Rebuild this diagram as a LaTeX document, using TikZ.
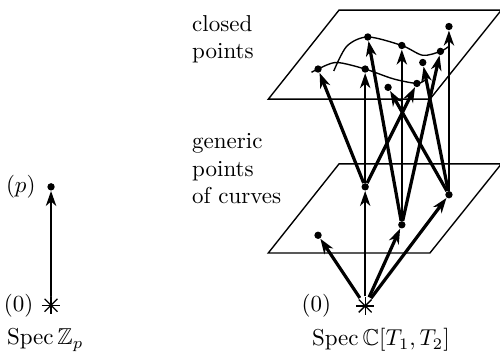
\documentclass[tikz,border=0pt]{standalone}
\usepackage{amsmath,amssymb}
\usepackage{tikz}
\usetikzlibrary{arrows.meta, positioning}

\begin{document}
\begin{tikzpicture}[
    closed point/.style={
        circle,
        fill=black,
        inner sep=0pt,
        minimum size=3.2pt
    },
    generic star/.style={
        circle,
        minimum size=2.8mm,
        inner sep=0pt,
        path picture={
            \draw[line width=0.55pt] (path picture bounding box.north) -- (path picture bounding box.south);
            \draw[line width=0.55pt] (path picture bounding box.west) -- (path picture bounding box.east);
            \draw[line width=0.55pt] (path picture bounding box.north west) -- (path picture bounding box.south east);
            \draw[line width=0.55pt] (path picture bounding box.north east) -- (path picture bounding box.south west);
        }
    },
    plane/.style={line width=0.6pt},
    curve/.style={line width=0.6pt},
    thin arrow/.style={
        line width=0.6pt,
        -{Stealth[length=2.3mm, width=1.6mm, inset=0.7mm]}
    },
    thick arrow/.style={
        line width=1.4pt,
        -{Stealth[length=2.3mm, width=1.6mm, inset=0.7mm]}
    }
]
    \useasboundingbox (0,0) rectangle (7.64,5.455);

    % 两个平面
    \draw[plane] (4.10,3.94) -- (6.57,3.94) -- (7.66,5.30) -- (5.18,5.30) -- cycle;
    \draw[plane] (4.10,1.59) -- (6.57,1.59) -- (7.66,2.95) -- (5.18,2.95) -- cycle;

    % 左边: Spec Z_p
    \node[generic star] (starL) at (0.78,0.79) {};
    \node[closed point] (dotL) at (0.78,2.60) {};
    \node[left=0pt of starL] (zeroL) {$(0)$};
    \node[left=0.5mm of dotL] (pL) {$(p)$};
    \node[anchor=west, inner sep=0pt] (specZ) at (0.10,0.26) {$\operatorname{Spec}\mathbb{Z}_p$};
    \draw[thin arrow] (starL) -- (dotL);

    % 右边: 一般点和闭点
    \node[generic star] (starR) at (5.58,0.78) {};
    \node[left=2.5mm of starR] (zeroR) {$(0)$};
    \node (specC) at (5.82,0.26) {$\operatorname{Spec}\mathbb{C}[T_1,T_2]$};

    \node[closed point] (g1) at (5.58,2.60) {};
    \node[closed point] (g2) at (6.14,2.02) {};
    \node[closed point] (g3) at (6.86,2.48) {};
    \node[closed point] (g4) at (4.86,1.86) {};

    \node[closed point] (p1) at (4.86,4.40) {};
    \node[closed point] (p2) at (5.62,4.89) {};
    \node[closed point] (p3) at (5.58,4.40) {};
    \node[closed point] (p4) at (6.14,4.76) {};
    \node[closed point] (p5) at (5.93,4.12) {};
    \node[closed point] (p6) at (6.46,4.50) {};
    \node[closed point] (p7) at (6.37,4.18) {};
    \node[closed point] (p8) at (6.73,4.67) {};
    \node[closed point] (p9) at (6.86,5.05) {};

    % 曲线
    \draw[curve] plot[smooth] coordinates {(4.76,4.35) (4.86,4.40) (5.14,4.50) (5.58,4.40) (6.01,4.25) (6.37,4.18) (6.49,4.23)};
    \draw[curve] plot[smooth] coordinates {(5.10,4.37) (5.30,4.75) (5.62,4.89) (6.14,4.76) (6.46,4.61) (6.73,4.67) (6.85,4.74)};

    % 文字
    \node[anchor=north west, inner sep=0pt, align=left] (closedtext) at (2.93,5.23) {closed\\points};
    \node[anchor=north west, inner sep=0pt, align=left] (generictext) at (2.93,3.42) {generic\\points\\of curves};

    % 从 (0) 出发
    \draw[thick arrow] (starR) -- (g4);
    \draw[thin arrow] (starR) -- (g1);
    \draw[thick arrow] (starR) -- (g2);
    \draw[thick arrow] (starR) -- (g3);

    % 从一般点到闭点
    \draw[thin arrow] (g1) -- (p3);
    \draw[thick arrow] (g1) -- (p1);
    \draw[thick arrow] (g1) -- (p7);
    \draw[thin arrow] (g2) -- (p4);
    \draw[thick arrow] (g2) -- (p2);
    \draw[thick arrow] (g2) -- (p8);
    \draw[thin arrow] (g3) -- (p9);
    \draw[thick arrow] (g3) -- (p5);
    \draw[thick arrow] (g3) -- (p6);
\end{tikzpicture}
\end{document}
